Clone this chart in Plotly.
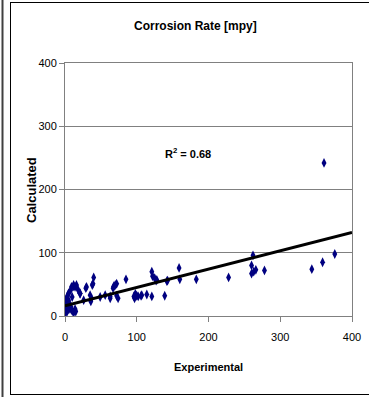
import plotly.graph_objects as go

# Data
experimental = [0, 1, 2, 3, 1, 2, 4, 5, 5, 7, 5, 10, 12, 14, 15, 14, 8, 9, 12, 12, 14, 16, 18, 10, 3, 6, 8, 1, 3,
                21, 21, 26, 29, 30, 35, 36, 37, 38, 39, 40, 49, 56, 63, 63, 67, 68, 70, 72, 72, 74,
                85, 96, 97, 98, 100, 102, 106, 107, 114, 121, 121, 122, 125, 127, 128, 139, 142, 143, 159, 160, 183,
                228, 260, 260, 262, 263, 266, 278, 344, 359, 361, 376]
calculated = [13, 9, 15, 20, 25, 28, 33, 36, 25, 11, 11, 8, 5, 9, 7, 11, 41, 46, 49, 47, 46, 49, 42, 30, 18, 20, 15, 5, 7,
              36, 35, 25, 44, 46, 33, 23, 28, 49, 51, 61, 30, 33, 31, 28, 44, 47, 49, 51, 32, 28,
              58, 31, 28, 35, 32, 31, 32, 33, 34, 31, 70, 63, 60, 56, 57, 32, 55, 56, 76, 58, 58,
              61, 67, 80, 96, 70, 73, 72, 74, 85, 242, 98]

trend_intercept = 16
trend_slope = 0.29
trend_x = [0, 400]
trend_y = [trend_intercept + trend_slope * v for v in trend_x]

title_text = "Corrosion Rate [mpy]"
x_title = "Experimental"
y_title = "Calculated"
r2_text = "R<sup>2</sup> = 0.68"
tick_vals = [0, 100, 200, 300, 400]

FONT = "Liberation Sans, Arial, sans-serif"

fig = go.Figure()
fig.add_trace(go.Scatter(
    x=experimental, y=calculated, mode="markers",
    marker=dict(symbol="diamond-tall", size=7, color="#000080"),
    showlegend=False, hoverinfo="skip"))
fig.add_trace(go.Scatter(
    x=trend_x, y=trend_y, mode="lines",
    line=dict(color="black", width=3),
    showlegend=False, hoverinfo="skip"))

L, R, T, B = 65, 17, 63, 81
W, H = 369, 397
pw = W - L - R
ph = H - T - B

def px_to_paper_x(px):
    return (px - L) / pw

def py_to_paper_y(py):
    return (H - B - py) / ph

def seg(x0, y0, x1, y1, color, width):
    return dict(type="line", xref="paper", yref="paper",
                x0=px_to_paper_x(x0), x1=px_to_paper_x(x1),
                y0=py_to_paper_y(y0), y1=py_to_paper_y(y1),
                line=dict(color=color, width=width))

shapes = [
    seg(2.5, 0, 2.5, 397, "#404040", 2),
    seg(10.5, 2, 10.5, 395, "black", 1),
    seg(10, 2.5, 369, 2.5, "black", 1),
    seg(10, 394.5, 369, 394.5, "black", 1),
]

def ann(text, px, py, size, angle=0):
    return dict(text="<b>" + text + "</b>", xref="paper", yref="paper",
                x=px_to_paper_x(px), y=py_to_paper_y(py), showarrow=False,
                xanchor="center", yanchor="middle", textangle=angle,
                font=dict(family=FONT, size=size, color="black"))

annotations = [
    ann(title_text, 195, 26, 12),
    ann(x_title, 208, 367, 11),
    ann(y_title, 31, 190, 13, -90),
    ann(r2_text, 188, 153, 11),
]

fig.update_layout(
    width=W, height=H,
    margin=dict(l=L, r=R, t=T, b=B, pad=0),
    paper_bgcolor="white", plot_bgcolor="white",
    shapes=shapes, annotations=annotations,
    font=dict(family=FONT, size=11, color="black"),
    xaxis=dict(range=[0, 400], tickvals=tick_vals, showgrid=False, zeroline=False,
               showline=True, linecolor="#808080", linewidth=1, mirror=True,
               ticks="outside", ticklen=5, tickcolor="#808080", ticklabelstandoff=6,
               automargin=False,
               tickfont=dict(family=FONT, size=11, color="black")),
    yaxis=dict(range=[0, 400], tickvals=tick_vals, showgrid=True, gridcolor="#808080", gridwidth=1,
               zeroline=False, showline=True, linecolor="#808080", linewidth=1, mirror=True,
               ticks="outside", ticklen=5, tickcolor="#808080", automargin=False,
               tickfont=dict(family=FONT, size=11, color="black")),
)

fig.write_html("out.html")
